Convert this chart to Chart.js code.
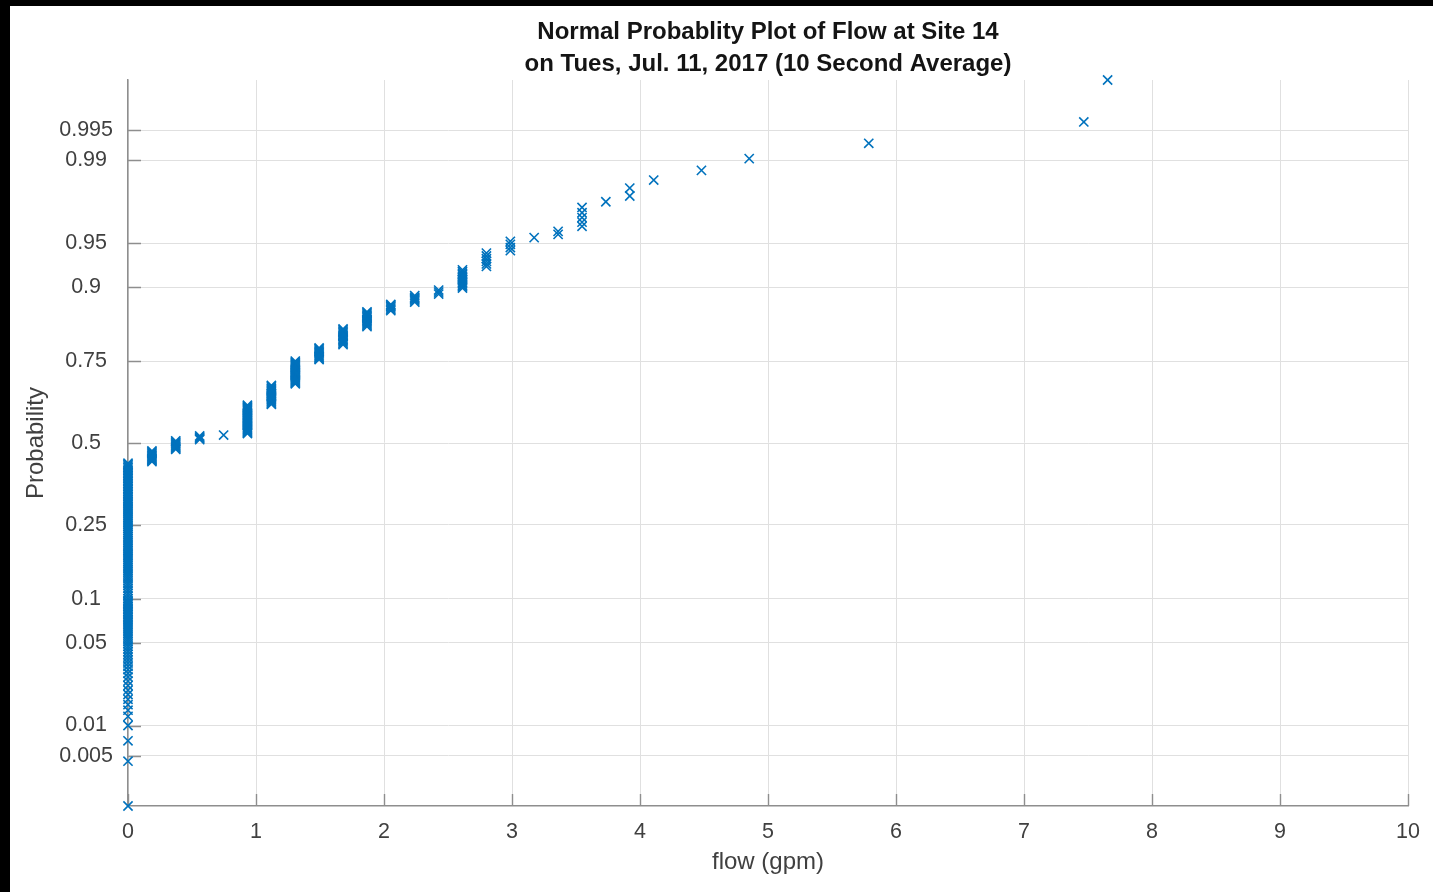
<!DOCTYPE html>
<html>
<head>
<meta charset="utf-8">
<title>Normal Probability Plot</title>
<script src="https://cdn.jsdelivr.net/npm/chart.js@4.4.1/dist/chart.umd.min.js"></script>
<style>
    html, body { margin: 0; padding: 0; background: #000; }
    #frame { position: absolute; left: 10px; top: 6px; width: 1423px; height: 886px; background: #fff; }
</style>
</head>
<body>
<div id="frame"><canvas id="plot"></canvas></div>
<script>
// flow values (gpm) that occur in the record, sorted
const flowLevels = [0, 0.187, 0.373, 0.56, 0.747, 0.933, 1.12, 1.307, 1.493, 1.68, 1.867, 2.053, 2.24, 2.427,
    2.613, 2.8, 2.987, 3.173, 3.36, 3.547, 3.733, 3.92, 4.107, 4.48, 4.853, 5.787, 7.467, 7.653];

// plotted probabilities for the points at each flow level
const probAtLevel = [
    [0.0014, 0.0044, 0.0071, 0.0100, 0.0122, 0.0139, 0.0156, 0.0174, 0.0192, 0.0209, 0.0229, 0.025, 0.027, 0.029,
     0.031, 0.033, 0.035, 0.037, 0.039, 0.041, 0.043, 0.045, 0.047, 0.049, 0.051, 0.053, 0.055, 0.057, 0.059, 0.061,
     0.063, 0.065, 0.067, 0.069, 0.071, 0.073, 0.075, 0.077, 0.079, 0.081, 0.083, 0.085, 0.087, 0.089, 0.091, 0.093,
     0.095, 0.097, 0.100, 0.104, 0.108, 0.112, 0.116, 0.120, 0.124, 0.128, 0.132, 0.136, 0.140, 0.144, 0.148, 0.152,
     0.156, 0.160, 0.164, 0.168, 0.172, 0.176, 0.180, 0.184, 0.188, 0.192, 0.196, 0.200, 0.205, 0.210, 0.215, 0.220,
     0.225, 0.230, 0.235, 0.240, 0.245, 0.250, 0.255, 0.260, 0.265, 0.270, 0.275, 0.280, 0.285, 0.290, 0.295, 0.300,
     0.305, 0.310, 0.315, 0.320, 0.325, 0.330, 0.335, 0.340, 0.345, 0.350, 0.355, 0.360, 0.365, 0.370, 0.375, 0.380,
     0.385, 0.390, 0.395, 0.400, 0.405, 0.410, 0.415, 0.420, 0.425, 0.430, 0.434],
    [0.439, 0.4425, 0.446, 0.4495, 0.453, 0.4565, 0.46, 0.4635, 0.467, 0.4705, 0.474],
    [0.479, 0.4825, 0.486, 0.4895, 0.493, 0.4965, 0.5, 0.5035, 0.507],
    [0.511, 0.515, 0.519, 0.523],
    [0.526],
    [0.531, 0.5345, 0.538, 0.5415, 0.545, 0.5485, 0.552, 0.5555, 0.559, 0.5625, 0.566, 0.5695, 0.573, 0.5765, 0.58,
     0.5835, 0.587, 0.5905, 0.594, 0.5975, 0.601, 0.6045, 0.608, 0.6115, 0.615, 0.6185, 0.622],
    [0.625, 0.6285, 0.632, 0.6355, 0.639, 0.6425, 0.646, 0.6495, 0.653, 0.6565, 0.66, 0.6635, 0.667, 0.6705, 0.674,
     0.678, 0.682],
    [0.687, 0.690, 0.693, 0.696, 0.699, 0.702, 0.705, 0.708, 0.711, 0.714, 0.717, 0.720, 0.723, 0.726, 0.729, 0.732,
     0.735, 0.738, 0.741, 0.744, 0.747, 0.750],
    [0.754, 0.757, 0.760, 0.763, 0.766, 0.769, 0.772, 0.775, 0.778, 0.781, 0.783],
    [0.791, 0.794, 0.797, 0.800, 0.803, 0.806, 0.809, 0.812, 0.815, 0.818, 0.821, 0.824, 0.826],
    [0.831, 0.8335, 0.836, 0.8385, 0.841, 0.8435, 0.846, 0.8485, 0.851, 0.8535, 0.856, 0.858, 0.860],
    [0.862, 0.8645, 0.867, 0.8695, 0.8715, 0.873],
    [0.877, 0.879, 0.881, 0.883, 0.885, 0.8875],
    [0.890, 0.893, 0.896],
    [0.899, 0.901, 0.903, 0.905, 0.907, 0.909, 0.911, 0.913, 0.915, 0.917, 0.919, 0.921, 0.923],
    [0.927, 0.9298, 0.9326, 0.9354, 0.9382, 0.941],
    [0.9434, 0.9462, 0.949, 0.9516],
    [0.9546],
    [0.9571, 0.9593],
    [0.9628, 0.9655, 0.9683, 0.971, 0.9738],
    [0.9765],
    [0.979, 0.9821],
    [0.9848],
    [0.9876],
    [0.9904],
    [0.9932],
    [0.9959],
    [0.9986]
];

const probTicks = [0.005, 0.01, 0.05, 0.1, 0.25, 0.5, 0.75, 0.9, 0.95, 0.99, 0.995];
const flowTicks = [0, 1, 2, 3, 4, 5, 6, 7, 8, 9, 10];

const titleLines = ['Normal Probablity Plot of Flow at Site 14', 'on Tues, Jul. 11, 2017 (10 Second Average)'];

const markerColor = '#0072BD';
const gridColor = '#e0e0e0';
const axisColor = '#8e8e8e';
const labelColor = '#404040';
const fontFamily = '"Liberation Sans", Arial, Helvetica, sans-serif';

// inverse normal cdf (Acklam), used to place probabilities on the normal scale
function probit(p) {
    const a = [-3.969683028665376e+01, 2.209460984245205e+02, -2.759285104469687e+02, 1.383577518672690e+02, -3.066479806614716e+01, 2.506628277459239e+00];
    const b = [-5.447609879822406e+01, 1.615858368580409e+02, -1.556989798598866e+02, 6.680131188771972e+01, -1.328068155288572e+01];
    const c = [-7.784894002430293e-03, -3.223964580411365e-01, -2.400758277161838e+00, -2.549732539343734e+00, 4.374664141464968e+00, 2.938163982698783e+00];
    const d = [7.784695709041462e-03, 3.224671290700398e-01, 2.445134137142996e+00, 3.754408661907416e+00];
    const tail = q => (((((c[0] * q + c[1]) * q + c[2]) * q + c[3]) * q + c[4]) * q + c[5]) /
        ((((d[0] * q + d[1]) * q + d[2]) * q + d[3]) * q + 1);
    if (p < 0.02425) return tail(Math.sqrt(-2 * Math.log(p)));
    if (p > 1 - 0.02425) return -tail(Math.sqrt(-2 * Math.log(1 - p)));
    const q = p - 0.5, r = q * q;
    return (((((a[0] * r + a[1]) * r + a[2]) * r + a[3]) * r + a[4]) * r + a[5]) * q /
        (((((b[0] * r + b[1]) * r + b[2]) * r + b[3]) * r + b[4]) * r + 1);
}

const points = [];
flowLevels.forEach((f, i) => {
    probAtLevel[i].forEach(p => points.push({ x: f, y: probit(p) }));
});
const allProbs = probAtLevel.flat();
const yMin = probit(Math.min(...allProbs));
const yMax = probit(Math.max(...allProbs));

// matlab style tick marks pointing into the axes
const innerTicks = {
    id: 'innerTicks',
    beforeDatasetsDraw(chart) {
        const { ctx, chartArea: area, scales: { x, y } } = chart;
        ctx.save();
        ctx.strokeStyle = axisColor;
        ctx.lineWidth = 1.4;
        ctx.beginPath();
        y.ticks.forEach((t, i) => {
            const py = Math.round(y.getPixelForTick(i)) + 0.5;
            ctx.moveTo(area.left, py);
            ctx.lineTo(area.left + 13, py);
        });
        x.ticks.forEach((t, i) => {
            const px = Math.round(x.getPixelForTick(i)) + 0.5;
            ctx.moveTo(px, area.bottom);
            ctx.lineTo(px, area.bottom - 12);
        });
        ctx.stroke();
        ctx.restore();
    }
};

new Chart(document.getElementById('plot'), {
    type: 'scatter',
    data: {
        datasets: [{
            data: points,
            pointStyle: 'crossRot',
            radius: 6.5,
            hoverRadius: 6.5,
            borderWidth: 1.6,
            borderColor: markerColor,
            backgroundColor: markerColor,
            clip: false
        }]
    },
    options: {
        responsive: true,
        maintainAspectRatio: false,
        animation: false,
        layout: { padding: { left: 0, right: 22, top: 0, bottom: 0 } },
        plugins: {
            legend: { display: false },
            tooltip: { enabled: false },
            title: {
                display: true,
                text: titleLines,
                fullSize: false,
                color: '#141414',
                font: { family: fontFamily, size: 24, weight: 'bold', lineHeight: 32 / 24 },
                padding: { top: 10, bottom: 0 }
            }
        },
        scales: {
            x: {
                type: 'linear',
                min: 0,
                max: 10,
                afterBuildTicks: s => { s.ticks = flowTicks.map(v => ({ value: v })); },
                afterFit: s => { s.height = 86; },
                grid: { color: gridColor, lineWidth: 1, drawTicks: false },
                border: { color: axisColor, width: 1.5 },
                ticks: {
                    color: labelColor,
                    padding: 13,
                    maxRotation: 0,
                    autoSkip: false,
                    font: { family: fontFamily, size: 21.5 },
                    callback: v => String(v)
                },
                title: {
                    display: true,
                    text: 'flow (gpm)',
                    color: labelColor,
                    font: { family: fontFamily, size: 24 },
                    padding: { top: 0, bottom: 15 }
                }
            },
            y: {
                type: 'linear',
                min: yMin,
                max: yMax,
                afterBuildTicks: s => { s.ticks = probTicks.map(p => ({ value: probit(p) })); },
                afterFit: s => { s.width = 118; },
                grid: { color: gridColor, lineWidth: 1, drawTicks: false },
                border: { color: axisColor, width: 1.5 },
                ticks: {
                    color: labelColor,
                    padding: 15,
                    crossAlign: 'center',
                    autoSkip: false,
                    font: { family: fontFamily, size: 21.5 },
                    callback: (v, i) => String(probTicks[i])
                },
                title: {
                    display: true,
                    text: 'Probability',
                    color: labelColor,
                    font: { family: fontFamily, size: 24 },
                    padding: { top: 12, bottom: 0 }
                }
            }
        }
    },
    plugins: [innerTicks]
});
</script>
</body>
</html>
